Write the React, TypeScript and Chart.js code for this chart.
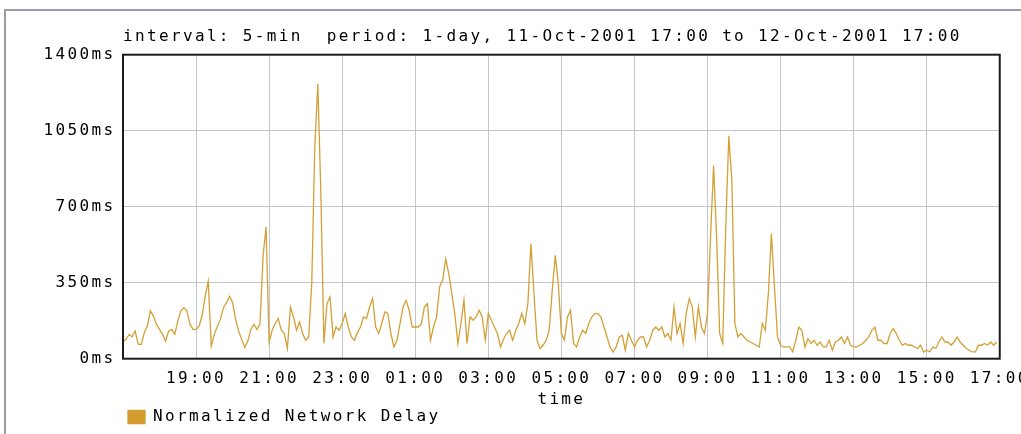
import React, { useEffect, useRef } from 'react';
import { Chart, registerables } from 'chart.js';

Chart.register(...registerables);

// ---- text ----
const TITLE = 'interval: 5-min  period: 1-day, 11-Oct-2001 17:00 to 12-Oct-2001 17:00';
const SERIES_LABEL = 'Normalized Network Delay';
const X_AXIS_TITLE = 'time';

// ---- x axis: minutes since 11-Oct-2001 17:00 ----
const STEP_MIN = 5;
const X_MAX_MIN = 1440;
const X_TICK_STEP_MIN = 120;
const X_TICK_LABELS = [
  '19:00', '21:00', '23:00', '01:00', '03:00', '05:00',
  '07:00', '09:00', '11:00', '13:00', '15:00', '17:00',
];

// ---- y axis ----
const Y_TICK_VALUES = [0, 350, 700, 1050, 1400];
const Y_TICK_LABELS = ['0ms', '350ms', '700ms', '1050ms', '1400ms'];

// ---- series: normalized network delay (ms), one value per 5 minutes ----
const DELAY_MS = [
  80, 89, 112, 101, 127, 66, 66, 120, 150, 220,
  196, 158, 135, 112, 81, 127, 135, 112, 173, 220,
  235, 220, 158, 135, 135, 150, 200, 288, 357, 58,
  112, 150, 181, 235, 258, 288, 258, 181, 127, 89,
  51, 81, 135, 158, 135, 160, 470, 606, 77, 131,
  162, 185, 131, 116, 47, 238, 192, 131, 169, 116,
  85, 100, 346, 974, 1265, 760, 70, 254, 284, 100,
  146, 131, 162, 208, 146, 100, 85, 120, 146, 192,
  185, 238, 277, 146, 116, 162, 215, 208, 116, 54,
  85, 162, 238, 269, 223, 146, 146, 146, 160, 238,
  254, 85, 146, 192, 330, 361, 460, 392, 300, 208,
  70, 162, 269, 70, 192, 177, 192, 223, 192, 85,
  208, 177, 146, 116, 54, 90, 116, 131, 85, 131,
  162, 208, 162, 254, 530, 300, 85, 47, 62, 85,
  131, 315, 476, 346, 116, 85, 192, 223, 70, 54,
  100, 131, 116, 162, 192, 208, 208, 192, 146, 100,
  54, 31, 54, 100, 108, 39, 116, 85, 54, 85,
  100, 100, 54, 85, 131, 146, 131, 146, 100, 116,
  85, 238, 116, 162, 70, 208, 277, 238, 100, 238,
  146, 116, 208, 560, 890, 560, 116, 70, 606, 1027,
  821, 162, 100, 116, 100, 85, 77, 70, 62, 54,
  162, 131, 300, 576, 330, 100, 62, 54, 54, 54,
  31, 85, 146, 131, 54, 92, 70, 85, 62, 77,
  54, 54, 85, 39, 77, 85, 100, 70, 100, 62,
  54, 54, 62, 70, 85, 100, 131, 146, 85, 85,
  70, 70, 116, 139, 116, 85, 62, 70, 62, 62,
  54, 47, 62, 31, 39, 31, 54, 47, 77, 100,
  77, 77, 62, 77, 100, 77, 62, 47, 39, 31,
  31, 62, 62, 70, 62, 77, 62, 77,
];

// ---- styles ----
const FONT_FAMILY = '"DejaVu Sans Mono", "Liberation Mono", monospace';
const FONT_SIZE = 16;
const LETTER_SPACING = '2.35px';
const TEXT_COLOR = '#000000';
const LINE_COLOR = '#D3A035';
const LEGEND_BOX_COLOR = '#D49C2C';
const GRID_COLOR = '#c4c4cc';
const FRAME_COLOR = '#1c1c1c';
const OUTER_FRAME_COLOR = '#9a9aaa';

const CANVAS_W = 1040;
const CANVAS_H = 440;

const font = { family: FONT_FAMILY, size: FONT_SIZE, weight: 'normal' as const };

const spacingPlugin = {
  id: 'letterSpacingPlugin',
  beforeUpdate(chart: any) {
    (chart.ctx as any).letterSpacing = LETTER_SPACING;
  },
  beforeLayout(chart: any) {
    (chart.ctx as any).letterSpacing = LETTER_SPACING;
  },
  beforeDraw(chart: any) {
    (chart.ctx as any).letterSpacing = LETTER_SPACING;
  },
};

const framePlugin = {
  id: 'framePlugin',
  beforeDraw(chart: any) {
    const ctx = chart.ctx;
    ctx.save();
    ctx.fillStyle = '#ffffff';
    ctx.fillRect(0, 0, chart.width, chart.height);
    ctx.fillStyle = OUTER_FRAME_COLOR;
    ctx.fillRect(4, 9, 2, chart.height);
    ctx.fillRect(4, 9, chart.width, 2);
    ctx.restore();
  },
  afterDatasetsDraw(chart: any) {
    const { ctx, chartArea: a } = chart;
    ctx.save();
    ctx.strokeStyle = FRAME_COLOR;
    ctx.lineWidth = 2;
    ctx.strokeRect(a.left, a.top, a.right - a.left, a.bottom - a.top);
    ctx.restore();
  },
};

export default function App() {
  const canvasRef = useRef<HTMLCanvasElement | null>(null);

  useEffect(() => {
    const canvas = canvasRef.current;
    if (!canvas) return;

    const points = DELAY_MS.map((v, i) => ({ x: i * STEP_MIN, y: v }));

    const chart = new Chart(canvas, {
      type: 'line',
      data: {
        datasets: [
          {
            label: SERIES_LABEL,
            data: points,
            borderColor: LINE_COLOR,
            backgroundColor: LEGEND_BOX_COLOR,
            borderWidth: 1.3,
            pointRadius: 0,
            tension: 0,
            fill: false,
          },
        ],
      },
      options: {
        responsive: false,
        animation: false,
        devicePixelRatio: 1,
        events: [],
        layout: { padding: { left: 0, right: 40, top: 0, bottom: 5 } },
        plugins: {
          title: {
            display: true,
            text: TITLE,
            align: 'start',
            fullSize: false,
            color: TEXT_COLOR,
            font,
            padding: { top: 27, bottom: 8.5 },
          },
          legend: {
            display: true,
            position: 'bottom',
            align: 'start',
            fullSize: false,
            labels: {
              font,
              color: TEXT_COLOR,
              boxWidth: 17,
              boxHeight: 13,
              padding: 5,
            },
          },
          tooltip: { enabled: false },
        },
        scales: {
          x: {
            type: 'linear',
            min: 0,
            max: X_MAX_MIN,
            afterFit: (s: any) => {
              s.height = 45.3;
            },
            ticks: {
              stepSize: X_TICK_STEP_MIN,
              autoSkip: false,
              maxRotation: 0,
              minRotation: 0,
              padding: 10.3,
              color: TEXT_COLOR,
              font,
              callback: (value: any) => {
                const idx = Math.round(Number(value) / X_TICK_STEP_MIN) - 1;
                return idx >= 0 && idx < X_TICK_LABELS.length ? X_TICK_LABELS[idx] : '';
              },
            },
            grid: { color: GRID_COLOR, lineWidth: 1, drawTicks: false },
            border: { display: false },
            title: {
              display: true,
              text: X_AXIS_TITLE,
              color: TEXT_COLOR,
              font,
              padding: { top: 0, bottom: -5.1 },
            },
          },
          y: {
            min: Y_TICK_VALUES[0],
            max: Y_TICK_VALUES[Y_TICK_VALUES.length - 1],
            afterFit: (s: any) => {
              s.width = 123;
            },
            ticks: {
              stepSize: Y_TICK_VALUES[1] - Y_TICK_VALUES[0],
              padding: 7.5,
              color: TEXT_COLOR,
              font,
              callback: (value: any) => {
                const idx = Y_TICK_VALUES.indexOf(Number(value));
                return idx >= 0 ? Y_TICK_LABELS[idx] : '';
              },
            },
            grid: { color: GRID_COLOR, lineWidth: 1, drawTicks: false },
            border: { display: false },
          },
        },
      },
      plugins: [spacingPlugin, framePlugin],
    } as any);

    return () => {
      chart.destroy();
    };
  }, []);

  return (
    <div
      style={{
        position: 'fixed',
        left: 0,
        top: 0,
        width: 1021,
        height: 434,
        overflow: 'hidden',
        background: '#ffffff',
      }}
    >
      <canvas
        ref={canvasRef}
        width={CANVAS_W}
        height={CANVAS_H}
        style={{ display: 'block', width: CANVAS_W, height: CANVAS_H }}
      />
    </div>
  );
}
